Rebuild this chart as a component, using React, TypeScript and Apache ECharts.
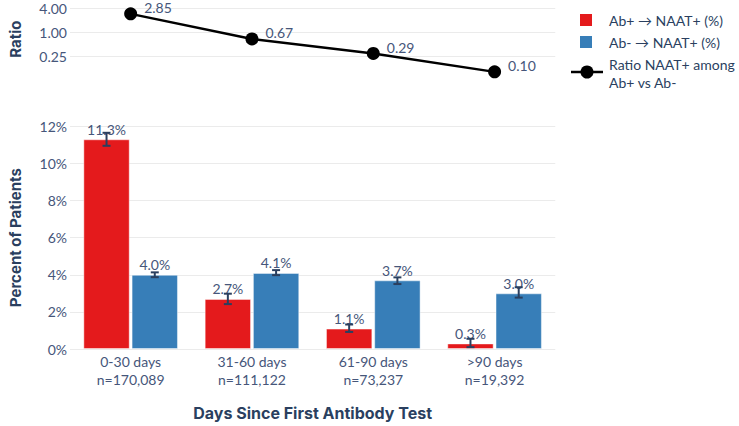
import React, { useEffect, useRef } from "react";
import * as echarts from "echarts";

const dayRanges = ["0-30 days", "31-60 days", "61-90 days", ">90 days"];
const sampleSizes = ["n=170,089", "n=111,122", "n=73,237", "n=19,392"];
const abPosPct = [11.3, 2.7, 1.1, 0.3];
const abNegPct = [4.0, 4.1, 3.7, 3.0];
const abPosLow = [10.95, 2.42, 0.92, 0.1];
const abPosHigh = [11.65, 2.98, 1.32, 0.55];
const abNegLow = [3.87, 3.98, 3.5, 2.77];
const abNegHigh = [4.13, 4.25, 3.86, 3.33];
const ratioVals = [2.85, 0.67, 0.29, 0.1];
const ratioTicks = [0.25, 1, 4];

const RED = "#e41a1c";
const BLUE = "#377eb8";
const TEXT = "#2a3f5f";
const TICK = "#46567a";
const FONT = "Lato, 'Noto Sans', sans-serif";
const TITLE_FONT = "Inter, 'Noto Sans', sans-serif";

const log4 = (v: number) => Math.log(v) / Math.log(4);

export default function App() {
  const ref = useRef<HTMLDivElement>(null);
  useEffect(() => {
    if (!ref.current) return;
    const chart = echarts.init(ref.current, undefined, { renderer: "svg" });
    const categories = dayRanges.map((d, i) => d + "\n" + sampleSizes[i]);
    const CAT_GAP = 0.22;
    const BAR_GAP = 0.04;
    const errSeries = (low: number[], high: number[], side: number) => ({
      type: "custom",
      xAxisIndex: 1,
      yAxisIndex: 1,
      z: 10,
      silent: true,
      data: low.map((l, i) => [i, l, high[i]]),
      encode: { x: 0, y: [1, 2] },
      renderItem: (params: any, api: any) => {
        const idx = api.value(0);
        const lo = api.value(1);
        const hi = api.value(2);
        const band = api.size([1, 0])[0];
        const w = (band * (1 - CAT_GAP)) / (2 + BAR_GAP);
        const off = side * (w / 2 + (w * BAR_GAP) / 2);
        const pt = api.coord([idx, hi]);
        const pb = api.coord([idx, lo]);
        const x = pt[0] + off;
        const style = { stroke: TEXT, lineWidth: 2 };
        const cap = 4;
        return {
          type: "group",
          children: [
            { type: "line", shape: { x1: x, y1: pt[1], x2: x, y2: pb[1] }, style },
            { type: "line", shape: { x1: x - cap, y1: pt[1], x2: x + cap, y2: pt[1] }, style },
            { type: "line", shape: { x1: x - cap, y1: pb[1], x2: x + cap, y2: pb[1] }, style },
          ],
        };
      },
    });

    const legendText = (x: number, y: number, t: string) => ({
      type: "text",
      x,
      y,
      style: { text: t, fill: TEXT, font: `14px ${FONT}`, verticalAlign: "middle", align: "left" },
    });

    chart.setOption({
      animation: false,
      textStyle: { fontFamily: FONT },
      grid: [
        { left: 68.75, width: 486.5, top: 0.8, height: 76.8 },
        { left: 68.75, width: 486.5, top: 126.3, height: 233.7 },
      ],
      xAxis: [
        { type: "category", gridIndex: 0, data: categories, show: false },
        {
          type: "category",
          gridIndex: 1,
          data: categories,
          axisLine: { show: false },
          axisTick: { show: false },
          axisLabel: { color: TICK, fontSize: 14, lineHeight: 18, margin: 3, fontFamily: FONT },
          name: "Days Since First Antibody Test",
          nameLocation: "middle",
          nameGap: 56,
          nameTextStyle: { color: TEXT, fontSize: 16, fontWeight: "bold", fontFamily: TITLE_FONT },
        },
      ],
      yAxis: [
        {
          type: "value",
          gridIndex: 0,
          min: -1.9,
          max: 1.3,
          axisLine: { show: false },
          axisTick: { show: false, customValues: ratioTicks.map(log4) },
          axisLabel: {
            customValues: ratioTicks.map(log4),
            formatter: (v: number) => Math.pow(4, v).toFixed(2),
            color: TICK,
            fontSize: 14,
            margin: 3,
            fontFamily: FONT,
          },
          splitLine: { show: true, lineStyle: { color: "#ebebeb", width: 1 } },
          name: "Ratio",
          nameLocation: "middle",
          nameGap: 47,
          nameTextStyle: { color: TEXT, fontSize: 15, fontWeight: "bold", fontFamily: TITLE_FONT },
        },
        {
          type: "value",
          gridIndex: 1,
          min: 0,
          max: 12,
          interval: 2,
          axisLine: { show: false },
          axisTick: { show: false },
          axisLabel: { formatter: "{value}%", color: TICK, fontSize: 14, margin: 3, fontFamily: FONT },
          splitLine: { show: true, lineStyle: { color: "#ebebeb", width: 1 } },
          name: "Percent of Patients",
          nameLocation: "middle",
          nameGap: 47,
          nameTextStyle: { color: TEXT, fontSize: 15, fontWeight: "bold", fontFamily: TITLE_FONT },
        },
      ],
      series: [
        {
          name: "Ratio NAAT+ among Ab+ vs Ab-",
          type: "line",
          xAxisIndex: 0,
          yAxisIndex: 0,
          data: ratioVals.map((r) => log4(r)),
          symbol: "circle",
          symbolSize: 13,
          itemStyle: { color: "#000" },
          lineStyle: { color: "#000", width: 2.5 },
          clip: false,
          label: {
            show: true,
            position: "right",
            distance: 5,
            offset: [2, -6],
            formatter: (p: any) => ratioVals[p.dataIndex].toFixed(2),
            color: TICK,
            fontSize: 14,
            fontFamily: FONT,
          },
        },
        {
          name: "Ab+ → NAAT+ (%)",
          type: "bar",
          xAxisIndex: 1,
          yAxisIndex: 1,
          data: abPosPct,
          barCategoryGap: "22%",
          barGap: "4%",
          itemStyle: { color: RED, borderColor: "rgba(255,255,255,0.45)", borderWidth: 1 },
          label: {
            show: true,
            position: "top",
            distance: 3,
            formatter: (p: any) => p.value.toFixed(1) + "%",
            color: TICK,
            fontSize: 14,
            fontFamily: FONT,
          },
        },
        {
          name: "Ab- → NAAT+ (%)",
          type: "bar",
          xAxisIndex: 1,
          yAxisIndex: 1,
          data: abNegPct,
          barCategoryGap: "22%",
          barGap: "4%",
          itemStyle: { color: BLUE, borderColor: "rgba(255,255,255,0.45)", borderWidth: 1 },
          label: {
            show: true,
            position: "top",
            distance: 3,
            formatter: (p: any) => p.value.toFixed(1) + "%",
            color: TICK,
            fontSize: 14,
            fontFamily: FONT,
          },
        },
        errSeries(abPosLow, abPosHigh, -1),
        errSeries(abNegLow, abNegHigh, 1),
      ],
      graphic: [
        { type: "rect", shape: { x: 580, y: 14, width: 12, height: 12 }, style: { fill: RED } },
        { type: "rect", shape: { x: 580, y: 36, width: 12, height: 12 }, style: { fill: BLUE } },
        { type: "line", shape: { x1: 571, y1: 72, x2: 603, y2: 72 }, style: { stroke: "#000", lineWidth: 2.5 } },
        { type: "circle", shape: { cx: 587, cy: 72, r: 6.5 }, style: { fill: "#000" } },
        legendText(609, 20, "Ab+ → NAAT+ (%)"),
        legendText(609, 42, "Ab- → NAAT+ (%)"),
        legendText(609, 64, "Ratio NAAT+ among"),
        legendText(609, 82, "Ab+ vs Ab-"),
      ],
    });
    return () => chart.dispose();
  }, []);
  return (
    <div
      ref={ref}
      style={{ position: "fixed", left: 0, top: 0, width: 739, height: 426, background: "#fff" }}
    />
  );
}
